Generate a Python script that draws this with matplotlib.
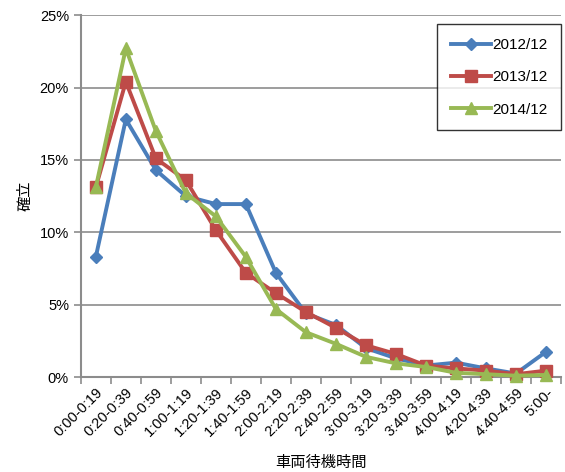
import matplotlib
matplotlib.use("Agg")
import matplotlib.pyplot as plt
from matplotlib.ticker import FuncFormatter, FixedLocator

plt.rcParams["font.family"] = ["Liberation Sans", "Noto Sans CJK JP"]

categories = [
    "0:00-0:19", "0:20-0:39", "0:40-0:59", "1:00-1:19", "1:20-1:39",
    "1:40-1:59", "2:00-2:19", "2:20-2:39", "2:40-2:59", "3:00-3:19",
    "3:20-3:39", "3:40-3:59", "4:00-4:19", "4:20-4:39", "4:40-4:59", "5:00-",
]
series_2012 = [8.3, 17.8, 14.3, 12.5, 11.95, 11.95, 7.2, 4.4, 3.6, 2.0,
               1.3, 0.8, 1.0, 0.6, 0.25, 1.75]
series_2013 = [13.1, 20.4, 15.1, 13.6, 10.15, 7.2, 5.8, 4.5, 3.4, 2.2,
               1.6, 0.8, 0.6, 0.45, 0.2, 0.45]
series_2014 = [13.1, 22.7, 17.0, 12.7, 11.1, 8.3, 4.7, 3.1, 2.3, 1.4,
               0.95, 0.7, 0.3, 0.2, 0.1, 0.15]
series_labels = ["2012/12", "2013/12", "2014/12"]

fig = plt.figure(figsize=(5.65, 4.72), dpi=100)
ax = fig.add_axes([0.143, 0.201, 0.85, 0.767])

x = list(range(len(categories)))
styles = [
    (series_2012, "#4A7EBB", "D", 6.5),
    (series_2013, "#BE4B48", "s", 8),
    (series_2014, "#98B954", "^", 9),
]
for (vals, color, marker, ms), label in zip(styles, series_labels):
    ax.plot(x, vals, color=color, lw=2.8, marker=marker, markersize=ms,
            markeredgecolor=color, label=label, clip_on=False, zorder=3)

ax.set_xlim(-0.5, len(categories) - 0.5)
ax.set_ylim(0, 25)
ax.set_yticks([0, 5, 10, 15, 20, 25])
ax.yaxis.set_major_formatter(FuncFormatter(lambda v, p: f"{v:.0f}%"))
ax.grid(axis="y", color="#8C8C8C", lw=1.2)
ax.set_axisbelow(True)

ax.set_xticks(x)
ax.set_xticklabels(categories, rotation=45, ha="right", rotation_mode="anchor",
                   fontsize=10.5)
ax.tick_params(axis="x", which="major", length=0, pad=6)
ax.xaxis.set_minor_locator(FixedLocator([i - 0.5 for i in range(len(categories) + 1)]))
ax.tick_params(axis="x", which="minor", length=5, color="#8C8C8C", width=1.2)
ax.tick_params(axis="y", length=5, color="#8C8C8C", width=1.2, labelsize=10.5)

for side in ("top", "right"):
    ax.spines[side].set_visible(False)
for side in ("left", "bottom"):
    ax.spines[side].set_color("#8C8C8C")
    ax.spines[side].set_linewidth(1.5)

ax.set_ylabel("確立", fontsize=11, labelpad=5)
ax.set_xlabel("車両待機時間", fontsize=11, labelpad=12)

leg = ax.legend(loc="upper right", bbox_to_anchor=(1.0, 0.975), frameon=True,
                fancybox=False, edgecolor="black", fontsize=11,
                handlelength=2.6, handletextpad=0.1, labelspacing=1.2,
                borderpad=0.9, borderaxespad=0)
leg.get_frame().set_linewidth(1.0)

fig.savefig("out.png", dpi=100)
